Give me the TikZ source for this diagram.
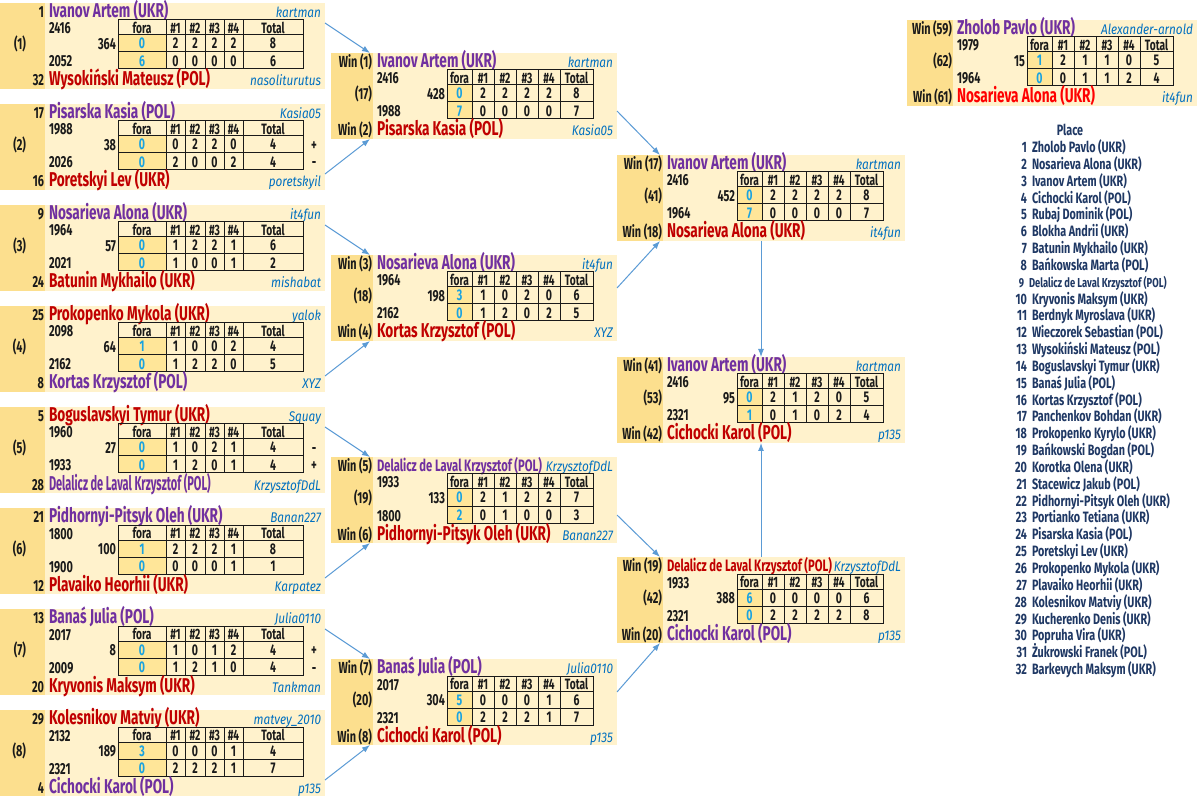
\documentclass[tikz,border=0pt]{standalone}
\usepackage{fontspec}
\setmainfont{Fira Sans}[FakeStretch=0.68]
\newfontfamily\nickf{Fira Sans}[FakeStretch=0.84]
\newfontfamily\placef{Fira Sans}[FakeStretch=0.72]
\newfontfamily\condf{Fira Sans}[FakeStretch=0.55]
\usetikzlibrary{arrows.meta}
\definecolor{bglight}{HTML}{FFF2CC}
\definecolor{bgstrip}{HTML}{FCDF8E}
\definecolor{foracell}{HTML}{FFE699}
\definecolor{win}{HTML}{7030A0}
\definecolor{lose}{HTML}{C00000}
\definecolor{losef}{HTML}{FF0000}
\definecolor{nick}{HTML}{0070C0}
\definecolor{foranum}{HTML}{1AA3E0}
\definecolor{navy}{HTML}{1F3864}
\definecolor{arrowc}{HTML}{5B9BD5}
\definecolor{txt}{HTML}{1A1A1A}
\tikzset{
  every node/.style={inner sep=0pt, outer sep=0pt},
  boxbg/.style={fill=bglight, draw=none, rectangle},
  stripbg/.style={fill=bgstrip, draw=none, rectangle},
  pname/.style={font=\fontsize{20}{20}\selectfont\bfseries},
  pnamec/.style={font=\condf\fontsize{20}{20}\selectfont\bfseries},
  pnames/.style={font=\fontsize{16.5}{16.5}\selectfont\bfseries},
  lab/.style={font=\fontsize{16}{16}\selectfont\bfseries, text=txt},
  num/.style={font=\fontsize{16}{16}\selectfont\bfseries, text=txt},
  thead/.style={font=\fontsize{15}{15}\selectfont\bfseries, text=txt},
  tcell/.style={font=\fontsize{15.5}{15.5}\selectfont\bfseries, text=txt},
  fcell/.style={tcell, text=foranum},
  nickst/.style={font=\nickf\fontsize{14}{14}\selectfont\itshape, text=nick},
  tabline/.style={draw=txt, line width=1pt, line cap=rect},
  conn/.style={draw=arrowc, line width=1pt, -{Latex[length=8pt,width=6pt]}},
  placest/.style={font=\placef\fontsize{15}{15}\selectfont\bfseries, text=navy},
  placesm/.style={font=\placef\fontsize{13}{13}\selectfont\bfseries, text=navy},
}
% \MB{id}{x0}{top}{width}{stripw}{tablex}{type}
\newcommand\MB[7]{%
  \gdef\curx{#2}\gdef\cury{#3}\gdef\curs{#2+#5}\gdef\curr{#2+#4-4}\gdef\curt{#6}%
  \ifnum#7=1 \gdef\colb{{0,48,67,87,106,125,185}}\gdef\nox{#2+26}\else\gdef\colb{{0,25,47,69,91,113,146}}\gdef\nox{#2+#5-1}\fi
  \node[boxbg, minimum width=#4pt, minimum height=86pt, anchor=north west] (#1) at (#2,#3) {};
  \node[stripbg, minimum width=#5pt, minimum height=86pt, anchor=north west] (#1s) at (#2,#3) {};
  \coordinate (#1-i1) at (#2+#5-3,#3);
  \coordinate (#1-i2) at (#2+#5-3,#3+86);
  \coordinate (#1-o1) at (#2+#4,#3+20);
  \coordinate (#1-o2) at (#2+#4,#3+70);
  \coordinate (#1-o3) at (#2+#4,#3+58);
  \coordinate (#1-o4) at (#2+#4,#3+33);
}
% \MT{id}{label}{name}{color}{nick}{namestyle}
\newcommand\MT[6]{%
  \node[lab, anchor=base east] (#1-tl) at (\curs-1,\cury+14.5) {#2};
  \node[#6, text=#4, anchor=base west] (#1-tn) at (\curs+4,\cury+14.5) {#3};
  \node[nickst, anchor=base east] (#1-tk) at (\curr,\cury+14.5) {#5};
}
\newcommand\MBt[6]{%
  \node[lab, anchor=base east] (#1-bl) at (\curs-1,\cury+83) {#2};
  \node[#6, text=#4, anchor=base west] (#1-bn) at (\curs+4,\cury+83) {#3};
  \node[nickst, anchor=base east] (#1-bk) at (\curr,\cury+83) {#5};
}
% \MM{id}{r1}{matchno}{sum}{r2}
\newcommand\MM[5]{%
  \node[num, anchor=base west] (#1-r1) at (\curs+4,\cury+31) {#2};
  \node[num, anchor=base east] (#1-no) at (\nox,\cury+46.5) {#3};
  \node[num, anchor=base east] (#1-sum) at (\curt-2,\cury+46.5) {#4};
  \node[num, anchor=base west] (#1-r2) at (\curs+4,\cury+64) {#5};
}
% \MTab{id}{row1}{row2}
\newcommand\MTab[3]{%
  \pgfmathsetmacro\fx{\curt+\colb[1]}%
  \pgfmathsetmacro\ex{\curt+\colb[6]}%
  \fill[foracell] (\curt,\cury+32) rectangle (\fx,\cury+66);
  \foreach \yy in {17,32,49,66}{\draw[tabline] (\curt,\cury+\yy) -- (\ex,\cury+\yy);}
  \foreach \i in {0,...,6}{\pgfmathsetmacro\xx{\curt+\colb[\i]}\draw[tabline] (\xx,\cury+17) -- (\xx,\cury+66);}
  \foreach \h [count=\i from 0] in {fora,\#1,\#2,\#3,\#4,Total}{%
    \pgfmathtruncatemacro\j{\i+1}%
    \pgfmathsetmacro\xc{\curt+(\colb[\i]+\colb[\j])/2}%
    \node[thead, anchor=base] (#1-h\i) at (\xc,\cury+30.5) {\h};}
  \foreach \v [count=\i from 0] in {#2}{%
    \pgfmathtruncatemacro\j{\i+1}%
    \pgfmathsetmacro\xc{\curt+(\colb[\i]+\colb[\j])/2}%
    \ifnum\i=0 \node[fcell, anchor=base] (#1-a\i) at (\xc,\cury+46) {\v};\else\node[tcell, anchor=base] (#1-a\i) at (\xc,\cury+46) {\v};\fi}
  \foreach \v [count=\i from 0] in {#3}{%
    \pgfmathtruncatemacro\j{\i+1}%
    \pgfmathsetmacro\xc{\curt+(\colb[\i]+\colb[\j])/2}%
    \ifnum\i=0 \node[fcell, anchor=base] (#1-b\i) at (\xc,\cury+63.5) {\v};\else\node[tcell, anchor=base] (#1-b\i) at (\xc,\cury+63.5) {\v};\fi}
}
% tie marks \MTie{id}{mark row2}{mark row3}
\newcommand\MTie[3]{%
  \node[num, anchor=base] (#1-t1) at (\curx+314,\cury+46.5) {#2};
  \node[num, anchor=base] (#1-t2) at (\curx+314,\cury+64) {#3};
}
\begin{document}
\begin{tikzpicture}[x=1pt,y=-1pt]
\useasboundingbox (0,0) rectangle (1200,799);
\fill[white] (0,0) rectangle (1200,799);

% ---------- Round 1 ----------
\MB{m1}{0}{3}{325}{45}{118}{1}
\MT{m1}{1}{Ivanov Artem (UKR)}{win}{kartman}{pname}
\MM{m1}{2416}{(1)}{364}{2052}
\MTab{m1}{0,2,2,2,2,8}{6,0,0,0,0,6}
\MBt{m1}{32}{Wysokiński Mateusz (POL)}{lose}{nasoliturutus}{pname}

\MB{m2}{0}{104}{325}{45}{118}{1}
\MT{m2}{17}{Pisarska Kasia (POL)}{win}{Kasia05}{pname}
\MM{m2}{1988}{(2)}{38}{2026}
\MTab{m2}{0,0,2,2,0,4}{0,2,0,0,2,4}
\MBt{m2}{16}{Poretskyi Lev (UKR)}{lose}{poretskyil}{pname}
\MTie{m2}{+}{-}

\MB{m3}{0}{205}{325}{45}{118}{1}
\MT{m3}{9}{Nosarieva Alona (UKR)}{win}{it4fun}{pname}
\MM{m3}{1964}{(3)}{57}{2021}
\MTab{m3}{0,1,2,2,1,6}{0,1,0,0,1,2}
\MBt{m3}{24}{Batunin Mykhailo (UKR)}{lose}{mishabat}{pname}

\MB{m4}{0}{306}{325}{45}{118}{1}
\MT{m4}{25}{Prokopenko Mykola (UKR)}{lose}{yalok}{pname}
\MM{m4}{2098}{(4)}{64}{2162}
\MTab{m4}{1,1,0,0,2,4}{0,1,2,2,0,5}
\MBt{m4}{8}{Kortas Krzysztof (POL)}{win}{XYZ}{pname}

\MB{m5}{0}{407}{325}{45}{118}{1}
\MT{m5}{5}{Boguslavskyi Tymur (UKR)}{lose}{Squay}{pname}
\MM{m5}{1960}{(5)}{27}{1933}
\MTab{m5}{0,1,0,2,1,4}{0,1,2,0,1,4}
\MBt{m5}{28}{Delalicz de Laval Krzysztof (POL)}{win}{KrzysztofDdL}{pnamec}
\MTie{m5}{-}{+}

\MB{m6}{0}{508}{325}{45}{118}{1}
\MT{m6}{21}{Pidhornyi-Pitsyk Oleh (UKR)}{win}{Banan227}{pname}
\MM{m6}{1800}{(6)}{100}{1900}
\MTab{m6}{1,2,2,2,1,8}{0,0,0,0,1,1}
\MBt{m6}{12}{Plavaiko Heorhii (UKR)}{lose}{Karpatez}{pname}

\MB{m7}{0}{609}{325}{45}{118}{1}
\MT{m7}{13}{Banaś Julia (POL)}{win}{Julia0110}{pname}
\MM{m7}{2017}{(7)}{8}{2009}
\MTab{m7}{0,1,0,1,2,4}{0,1,2,1,0,4}
\MBt{m7}{20}{Kryvonis Maksym (UKR)}{lose}{Tankman}{pname}
\MTie{m7}{+}{-}

\MB{m8}{0}{710}{325}{45}{118}{1}
\MT{m8}{29}{Kolesnikov Matviy (UKR)}{lose}{matvey\_2010}{pname}
\MM{m8}{2132}{(8)}{189}{2321}
\MTab{m8}{3,0,0,0,1,4}{0,2,2,2,1,7}
\MBt{m8}{4}{Cichocki Karol (POL)}{win}{p135}{pname}

% ---------- Round 2 ----------
\MB{m17}{331}{53}{286}{42}{447}{2}
\MT{m17}{Win (1)}{Ivanov Artem (UKR)}{win}{kartman}{pname}
\MM{m17}{2416}{(17)}{428}{1988}
\MTab{m17}{0,2,2,2,2,8}{7,0,0,0,0,7}
\MBt{m17}{Win (2)}{Pisarska Kasia (POL)}{lose}{Kasia05}{pname}

\MB{m18}{331}{255}{286}{42}{447}{2}
\MT{m18}{Win (3)}{Nosarieva Alona (UKR)}{win}{it4fun}{pname}
\MM{m18}{1964}{(18)}{198}{2162}
\MTab{m18}{3,1,0,2,0,6}{0,1,2,0,2,5}
\MBt{m18}{Win (4)}{Kortas Krzysztof (POL)}{lose}{XYZ}{pname}

\MB{m19}{331}{457}{286}{42}{447}{2}
\MT{m19}{Win (5)}{Delalicz de Laval Krzysztof (POL)}{win}{KrzysztofDdL}{pnames}
\MM{m19}{1933}{(19)}{133}{1800}
\MTab{m19}{0,2,1,2,2,7}{2,0,1,0,0,3}
\MBt{m19}{Win (6)}{Pidhornyi-Pitsyk Oleh (UKR)}{lose}{Banan227}{pname}

\MB{m20}{331}{659}{286}{42}{447}{2}
\MT{m20}{Win (7)}{Banaś Julia (POL)}{win}{Julia0110}{pname}
\MM{m20}{2017}{(20)}{304}{2321}
\MTab{m20}{5,0,0,0,1,6}{0,2,2,2,1,7}
\MBt{m20}{Win (8)}{Cichocki Karol (POL)}{lose}{p135}{pname}

% ---------- Round 3 ----------
\MB{m41}{617}{155}{288}{46}{737}{2}
\MT{m41}{Win (17)}{Ivanov Artem (UKR)}{win}{kartman}{pname}
\MM{m41}{2416}{(41)}{452}{1964}
\MTab{m41}{0,2,2,2,2,8}{7,0,0,0,0,7}
\MBt{m41}{Win (18)}{Nosarieva Alona (UKR)}{lose}{it4fun}{pname}

\MB{m53}{617}{357}{288}{46}{737}{2}
\MT{m53}{Win (41)}{Ivanov Artem (UKR)}{win}{kartman}{pname}
\MM{m53}{2416}{(53)}{95}{2321}
\MTab{m53}{0,2,1,2,0,5}{1,0,1,0,2,4}
\MBt{m53}{Win (42)}{Cichocki Karol (POL)}{lose}{p135}{pname}

\MB{m42}{617}{557}{288}{46}{737}{2}
\MT{m42}{Win (19)}{Delalicz de Laval Krzysztof (POL)}{lose}{KrzysztofDdL}{pnames}
\MM{m42}{1933}{(42)}{388}{2321}
\MTab{m42}{6,0,0,0,0,6}{0,2,2,2,2,8}
\MBt{m42}{Win (20)}{Cichocki Karol (POL)}{win}{p135}{pname}

% ---------- Final ----------
\MB{m62}{907}{20}{290}{46}{1027}{2}
\MT{m62}{Win (59)}{Zholob Pavlo (UKR)}{win}{Alexander-arnold}{pname}
\MM{m62}{1979}{(62)}{15}{1964}
\MTab{m62}{1,2,1,1,0,5}{0,0,1,1,2,4}
\MBt{m62}{Win (61)}{Nosarieva Alona (UKR)}{losef}{it4fun}{pname}

% ---------- Connectors ----------
\draw[conn] (m1-o1) -- (m17-i1);
\draw[conn] (m2-o2) -- (m17-i2);
\draw[conn] (m3-o1) -- (m18-i1);
\draw[conn] (m4-o2) -- (m18-i2);
\draw[conn] (m5-o1) -- (m19-i1);
\draw[conn] (m6-o2) -- (m19-i2);
\draw[conn] (m7-o1) -- (m20-i1);
\draw[conn] (m8-o2) -- (m20-i2);
\draw[conn] (m17-o3) -- (m41-i1);
\draw[conn] (m18-o4) -- (m41-i2);
\draw[conn] (m19-o3) -- (m42-i1);
\draw[conn] (m20-o4) -- (m42-i2);
\draw[conn] (m41.south) -- (m53.north);
\draw[conn] (m42.north) -- (m53.south);

% ---------- Place list ----------
\node[placest, anchor=base] (placehdr) at (1070,136) {Place};
\foreach \nm [count=\k] in {Zholob Pavlo (UKR),Nosarieva Alona (UKR),Ivanov Artem (UKR),Cichocki Karol (POL),Rubaj Dominik (POL),Blokha Andrii (UKR),Batunin Mykhailo (UKR),Bańkowska Marta (POL),Delalicz de Laval Krzysztof (POL),Kryvonis Maksym (UKR),Berdnyk Myroslava (UKR),Wieczorek Sebastian (POL),Wysokiński Mateusz (POL),Boguslavskyi Tymur (UKR),Banaś Julia (POL),Kortas Krzysztof (POL),Panchenkov Bohdan (UKR),Prokopenko Kyrylo (UKR),Bańkowski Bogdan (POL),Korotka Olena (UKR),Stacewicz Jakub (POL),Pidhornyi-Pitsyk Oleh (UKR),Portianko Tetiana (UKR),Pisarska Kasia (POL),Poretskyi Lev (UKR),Prokopenko Mykola (UKR),Plavaiko Heorhii (UKR),Kolesnikov Matviy (UKR),Kucherenko Denis (UKR),Popruha Vira (UKR),Żukrowski Franek (POL),Barkevych Maksym (UKR)}{%
  \pgfmathsetmacro\py{152.5+16.84*(\k-1)}%
  \ifnum\k=9
    \node[placesm, anchor=base east] (pk\k) at (1024,\py) {\k};
    \node[placesm, anchor=base west] (pn\k) at (1029,\py) {\nm};
  \else
    \node[placest, anchor=base east] (pk\k) at (1027,\py) {\k};
    \node[placest, anchor=base west] (pn\k) at (1032,\py) {\nm};
  \fi
}
\end{tikzpicture}
\end{document}
